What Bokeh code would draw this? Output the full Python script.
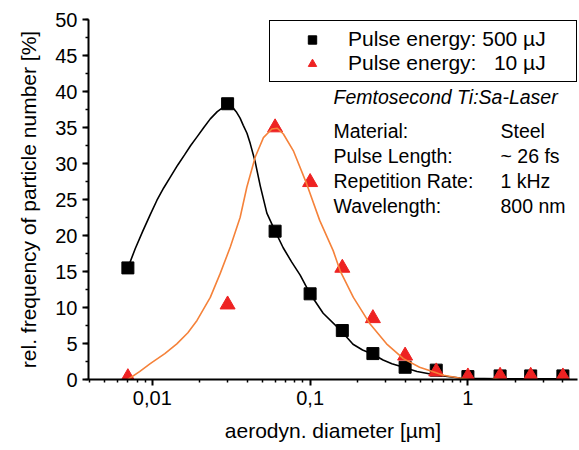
from bokeh.plotting import figure
from bokeh.models import (Range1d, FixedTicker, SingleIntervalTicker, CustomJSTickFormatter,
                          Legend, LegendItem, Label)
from bokeh.embed import file_html
from bokeh.resources import INLINE

# --- data ---
diameter = [0.007, 0.03, 0.06, 0.1, 0.16, 0.25, 0.4, 0.63, 1.0, 1.6, 2.5, 4.0]
freq_500uJ = [15.5, 38.3, 20.6, 11.9, 6.8, 3.6, 1.7, 1.3, 0.4, 0.5, 0.5, 0.5]
freq_10uJ = [0.3, 10.4, 35.0, 27.4, 15.5, 8.5, 3.3, 1.1, 0.4, 0.5, 0.5, 0.4]

# fitted curves
fit500_x = [0.007, 0.0078, 0.0087, 0.0097, 0.0107, 0.0118, 0.013, 0.0145, 0.0160, 0.0175,
            0.0192, 0.0212, 0.0233, 0.0258, 0.0281, 0.030, 0.032, 0.034, 0.036,
            0.0377, 0.0398, 0.0417, 0.0449, 0.0483, 0.0532, 0.060, 0.0675, 0.0765, 0.0865,
            0.1, 0.121, 0.155, 0.187, 0.215, 0.25, 0.29, 0.33, 0.377, 0.476, 0.637, 0.89,
            1.0, 1.6, 2.5, 4.0]
fit500_y = [15.5, 18.2, 20.6, 22.9, 24.9, 26.6, 28.1, 29.8, 31.2, 32.5,
            33.7, 35.0, 36.2, 37.2, 37.8, 38.1, 37.9, 37.2, 36.3,
            35.3, 34.2, 32.8, 30.2, 26.9, 23.1, 20.6, 18.3, 16.3, 14.5,
            11.9, 9.2, 6.9, 4.9, 4.1, 3.5, 2.7, 2.2, 1.8, 1.1, 0.6, 0.2,
            0.15, 0.1, 0.1, 0.1]
fit10_x = [0.007, 0.0083, 0.0097, 0.012, 0.0143, 0.0168, 0.0192, 0.0233, 0.0269, 0.0312,
           0.036, 0.0397, 0.0449, 0.0506, 0.0572, 0.062, 0.0677, 0.0782, 0.095, 0.115,
           0.140, 0.155, 0.188, 0.240, 0.305, 0.390, 0.494, 0.63, 0.70, 0.94, 1.2, 1.5,
           1.95, 2.4, 3.1, 4.0]
fit10_y = [0.0, 1.1, 2.2, 3.6, 4.95, 6.5, 8.2, 11.4, 14.7, 18.4,
           22.5, 26.7, 30.9, 33.6, 34.8, 34.9, 34.1, 31.8, 27.2, 22.1,
           17.9, 15.1, 11.4, 7.7, 4.95, 2.9, 1.7, 0.95, 0.6, 0.1, -0.25, 0.1,
           -0.45, -0.45, -0.2, 0.0]

x_major = [0.001, 0.01, 0.1, 1, 10]
x_minor = [m * d for d in [0.001, 0.01, 0.1, 1] for m in range(2, 10)]

FONT = "Liberation Sans"
ORANGE = "#f5823a"
RED = "#ee2222"

p = figure(width=578, height=449, x_axis_type="log", output_backend="svg",
           toolbar_location=None, x_range=Range1d(0.00394, 4.95), y_range=Range1d(0, 50),
           min_border_left=88, min_border_right=1, min_border_top=19, min_border_bottom=70)
p.outline_line_color = None
p.xgrid.visible = False
p.ygrid.visible = False
p.background_fill_color = "white"

r_sq = p.scatter(diameter, freq_500uJ, marker="square", size=12, color="black")
p.line(fit500_x, fit500_y, line_color="black", line_width=1.6)
r_tri = p.scatter(diameter, freq_10uJ, marker="triangle", size=15, color=RED)
p.line(fit10_x, fit10_y, line_color=ORANGE, line_width=1.6)

# axes
xa = p.xaxis[0]
xa.ticker = FixedTicker(ticks=x_major, minor_ticks=x_minor)
xa.formatter = CustomJSTickFormatter(code="return tick.toString().replace('.', ',');")
xa.axis_label = "aerodyn. diameter [µm]"
ya = p.yaxis[0]
ya.ticker = SingleIntervalTicker(interval=5, num_minor_ticks=2)
ya.axis_label = "rel. frequency of particle number [%]"
for ax in (xa, ya):
    ax.axis_line_width = 2
    ax.major_tick_line_width = 2
    ax.minor_tick_line_width = 1.5
    ax.major_tick_in = 0
    ax.major_tick_out = 6
    ax.minor_tick_in = 0
    ax.minor_tick_out = 3
    ax.major_label_text_font = FONT
    ax.major_label_text_font_size = "20px"
    ax.major_label_text_color = "black"
    ax.axis_label_text_font = FONT
    ax.axis_label_text_font_size = "21px"
    ax.axis_label_text_font_style = "normal"
    ax.axis_label_text_color = "black"
    ax.major_label_standoff = 5
xa.axis_label_standoff = 11
ya.axis_label_standoff = 12

legend = Legend(items=[LegendItem(label="Pulse energy: 500 µJ", renderers=[r_sq]),
                       LegendItem(label="Pulse energy: \u200710 µJ", renderers=[r_tri])],
                location=(181, 297), margin=0, padding=6, spacing=0,
                glyph_width=72, glyph_height=21, label_height=21, label_width=222,
                label_standoff=0, border_line_color="black", border_line_width=1,
                border_line_alpha=1, background_fill_alpha=1,
                label_text_font=FONT, label_text_font_size="21px",
                label_text_color="black", label_text_baseline="middle")
p.add_layout(legend, "center")

ann = dict(x_units="screen", y_units="screen", text_font=FONT, text_font_size="19.5px",
           text_baseline="middle", text_color="black")
p.add_layout(Label(x=245, y=283, text="Femtosecond Ti:Sa-Laser", text_font_style="italic", **ann))
rows = [("Material:", "Steel"), ("Pulse Length:", "~ 26 fs"),
        ("Repetition Rate:", "1 kHz"), ("Wavelength:", "800 nm")]
for i, (k, v) in enumerate(rows):
    yy = 249 - 25 * i
    p.add_layout(Label(x=245, y=yy, text=k, **ann))
    p.add_layout(Label(x=412, y=yy, text=v, **ann))

open("out.html", "w").write(file_html(p, INLINE))
